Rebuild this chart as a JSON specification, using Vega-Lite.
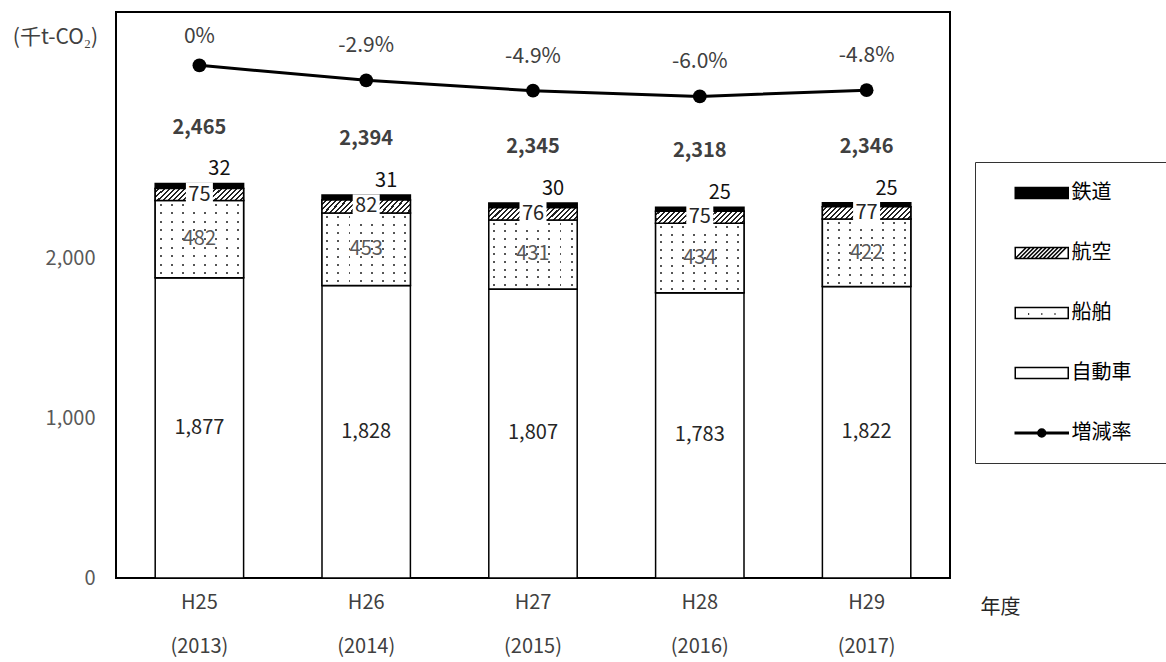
{
  "$schema": "https://vega.github.io/schema/vega-lite/v6.json",
  "autosize": {"type": "none"},
  "padding": {"left": 116, "top": 12, "right": 216, "bottom": 84},
  "width": 834,
  "height": 566,
  "config": {
    "font": "Noto Sans CJK JP",
    "view": {"stroke": "black", "strokeWidth": 2},
    "axis": {"grid": false},
    "legend": {
      "orient": "none",
      "legendX": 859,
      "legendY": 150,
      "titleOrient": "right",
      "titlePadding": 30,
      "titleFontSize": 20,
      "padding": 20,
      "strokeColor": "#333333",
      "rowPadding": 39,
      "symbolSize": 400,
      "symbolStrokeWidth": 1.5,
      "labelFontSize": 20,
      "labelColor": "black",
      "labelOffset": 54.5,
      "labelLimit": 400
    }
  },
  "datasets": {
    "emis": [
      {"year": "H25|(2013)", "mode": "自動車", "order": 1, "value": 1877},
      {"year": "H25|(2013)", "mode": "船舶", "order": 2, "value": 482},
      {"year": "H25|(2013)", "mode": "航空", "order": 3, "value": 75},
      {"year": "H25|(2013)", "mode": "鉄道", "order": 4, "value": 32},
      {"year": "H26|(2014)", "mode": "自動車", "order": 1, "value": 1828},
      {"year": "H26|(2014)", "mode": "船舶", "order": 2, "value": 453},
      {"year": "H26|(2014)", "mode": "航空", "order": 3, "value": 82},
      {"year": "H26|(2014)", "mode": "鉄道", "order": 4, "value": 31},
      {"year": "H27|(2015)", "mode": "自動車", "order": 1, "value": 1807},
      {"year": "H27|(2015)", "mode": "船舶", "order": 2, "value": 431},
      {"year": "H27|(2015)", "mode": "航空", "order": 3, "value": 76},
      {"year": "H27|(2015)", "mode": "鉄道", "order": 4, "value": 30},
      {"year": "H28|(2016)", "mode": "自動車", "order": 1, "value": 1783},
      {"year": "H28|(2016)", "mode": "船舶", "order": 2, "value": 434},
      {"year": "H28|(2016)", "mode": "航空", "order": 3, "value": 75},
      {"year": "H28|(2016)", "mode": "鉄道", "order": 4, "value": 25},
      {"year": "H29|(2017)", "mode": "自動車", "order": 1, "value": 1822},
      {"year": "H29|(2017)", "mode": "船舶", "order": 2, "value": 422},
      {"year": "H29|(2017)", "mode": "航空", "order": 3, "value": 77},
      {"year": "H29|(2017)", "mode": "鉄道", "order": 4, "value": 25}
    ],
    "totals": [
      {"year": "H25|(2013)", "total": 2465},
      {"year": "H26|(2014)", "total": 2394},
      {"year": "H27|(2015)", "total": 2345},
      {"year": "H28|(2016)", "total": 2318},
      {"year": "H29|(2017)", "total": 2346}
    ],
    "rate": [
      {"year": "H25|(2013)", "pct": 0},
      {"year": "H26|(2014)", "pct": -2.9},
      {"year": "H27|(2015)", "pct": -4.9},
      {"year": "H28|(2016)", "pct": -6.0},
      {"year": "H29|(2017)", "pct": -4.8}
    ]
  },
  "encoding": {
    "x": {
      "field": "year",
      "type": "nominal",
      "scale": {"paddingInner": 0.47, "paddingOuter": 0.235},
      "axis": {
        "domain": false,
        "ticks": false,
        "labelAngle": 0,
        "labelFontSize": 20,
        "labelColor": "#404040",
        "labelPadding": 14,
        "labelLineHeight": 44,
        "labelExpr": "[slice(datum.label, 0, 3), slice(datum.label, 4)]",
        "title": "年度",
        "titleX": 884,
        "titleY": 29,
        "titleAlign": "center",
        "titleBaseline": "middle",
        "titleFontSize": 20,
        "titleFontWeight": "normal",
        "titleColor": "#262626"
      }
    }
  },
  "layer": [
    {
      "data": {"name": "emis"},
      "transform": [
        {"stack": "value", "groupby": ["year"], "sort": [{"field": "order", "order": "ascending"}], "as": ["v0", "v1"]},
        {"calculate": "(datum.v0 + datum.v1) / 2", "as": "mid"}
      ],
      "encoding": {
        "y": {
          "field": "v1",
          "type": "quantitative",
          "scale": {"domain": [0, 3537.5], "nice": false},
          "axis": {
            "domain": false,
            "ticks": false,
            "values": [0, 1000, 2000],
            "labelExpr": "format(datum.value, ',')",
            "labelFontSize": 20,
            "labelColor": "#595959",
            "labelPadding": 21,
            "title": "(千t-CO₂)",
            "titleAngle": 0,
            "titleX": -61,
            "titleY": 25,
            "titleAlign": "center",
            "titleBaseline": "middle",
            "titleFontSize": 21,
            "titleFontWeight": "normal",
            "titleColor": "#404040"
          }
        },
        "y2": {"field": "v0"}
      },
      "layer": [
        {
          "mark": {"type": "bar", "stroke": "black", "strokeWidth": 1.5},
          "encoding": {
            "fill": {"condition": {"test": "datum.mode === '鉄道'", "value": "black"}, "value": "white"}
          }
        },
        {
          "transform": [{"filter": "datum.mode === '船舶'"}],
          "mark": {
            "type": "bar",
            "strokeWidth": 0,
            "fill": {
              "gradient": "linear", "x1": 0, "y1": 0, "x2": 1, "y2": 0,
              "stops": [
                {"offset": 0, "color": "white"}, {"offset": 0.05, "color": "white"}, {"offset": 0.05, "color": "#555555"}, {"offset": 0.072, "color": "#555555"}, {"offset": 0.072, "color": "white"},
                {"offset": 0.175, "color": "white"}, {"offset": 0.175, "color": "#555555"}, {"offset": 0.197, "color": "#555555"}, {"offset": 0.197, "color": "white"},
                {"offset": 0.3, "color": "white"}, {"offset": 0.3, "color": "#555555"}, {"offset": 0.322, "color": "#555555"}, {"offset": 0.322, "color": "white"},
                {"offset": 0.425, "color": "white"}, {"offset": 0.425, "color": "#555555"}, {"offset": 0.447, "color": "#555555"}, {"offset": 0.447, "color": "white"},
                {"offset": 0.55, "color": "white"}, {"offset": 0.55, "color": "#555555"}, {"offset": 0.572, "color": "#555555"}, {"offset": 0.572, "color": "white"},
                {"offset": 0.675, "color": "white"}, {"offset": 0.675, "color": "#555555"}, {"offset": 0.697, "color": "#555555"}, {"offset": 0.697, "color": "white"},
                {"offset": 0.8, "color": "white"}, {"offset": 0.8, "color": "#555555"}, {"offset": 0.822, "color": "#555555"}, {"offset": 0.822, "color": "white"},
                {"offset": 0.925, "color": "white"}, {"offset": 0.925, "color": "#555555"}, {"offset": 0.947, "color": "#555555"}, {"offset": 0.947, "color": "white"},
                {"offset": 1, "color": "white"}
              ]
            }
          }
        },
        {
          "transform": [{"filter": "datum.mode === '船舶'"}],
          "mark": {
            "type": "bar",
            "stroke": "black",
            "strokeWidth": 1.5,
            "fill": {
              "gradient": "linear", "x1": 0, "y1": 0, "x2": 0, "y2": 1,
              "stops": [
                {"offset": 0, "color": "white"}, {"offset": 0.04, "color": "white"}, {"offset": 0.04, "color": "rgba(255,255,255,0)"}, {"offset": 0.068, "color": "rgba(255,255,255,0)"}, {"offset": 0.068, "color": "white"},
                {"offset": 0.151, "color": "white"}, {"offset": 0.151, "color": "rgba(255,255,255,0)"}, {"offset": 0.179, "color": "rgba(255,255,255,0)"}, {"offset": 0.179, "color": "white"},
                {"offset": 0.262, "color": "white"}, {"offset": 0.262, "color": "rgba(255,255,255,0)"}, {"offset": 0.29, "color": "rgba(255,255,255,0)"}, {"offset": 0.29, "color": "white"},
                {"offset": 0.373, "color": "white"}, {"offset": 0.373, "color": "rgba(255,255,255,0)"}, {"offset": 0.401, "color": "rgba(255,255,255,0)"}, {"offset": 0.401, "color": "white"},
                {"offset": 0.484, "color": "white"}, {"offset": 0.484, "color": "rgba(255,255,255,0)"}, {"offset": 0.512, "color": "rgba(255,255,255,0)"}, {"offset": 0.512, "color": "white"},
                {"offset": 0.596, "color": "white"}, {"offset": 0.596, "color": "rgba(255,255,255,0)"}, {"offset": 0.624, "color": "rgba(255,255,255,0)"}, {"offset": 0.624, "color": "white"},
                {"offset": 0.707, "color": "white"}, {"offset": 0.707, "color": "rgba(255,255,255,0)"}, {"offset": 0.735, "color": "rgba(255,255,255,0)"}, {"offset": 0.735, "color": "white"},
                {"offset": 0.818, "color": "white"}, {"offset": 0.818, "color": "rgba(255,255,255,0)"}, {"offset": 0.846, "color": "rgba(255,255,255,0)"}, {"offset": 0.846, "color": "white"},
                {"offset": 0.929, "color": "white"}, {"offset": 0.929, "color": "rgba(255,255,255,0)"}, {"offset": 0.957, "color": "rgba(255,255,255,0)"}, {"offset": 0.957, "color": "white"},
                {"offset": 1, "color": "white"}
              ]
            }
          }
        },
        {
          "transform": [{"filter": "datum.mode === '航空'"}],
          "mark": {
            "type": "bar",
            "stroke": "black",
            "strokeWidth": 1.5,
            "fill": {
              "gradient": "linear", "x1": 0, "y1": 0, "x2": 1.15, "y2": 0.16,
              "stops": [
                {"offset": 0, "color": "white"}, {"offset": 0.03, "color": "white"}, {"offset": 0.03, "color": "#222222"}, {"offset": 0.05, "color": "#222222"},
                {"offset": 0.05, "color": "white"}, {"offset": 0.08, "color": "white"}, {"offset": 0.08, "color": "#222222"}, {"offset": 0.1, "color": "#222222"},
                {"offset": 0.1, "color": "white"}, {"offset": 0.13, "color": "white"}, {"offset": 0.13, "color": "#222222"}, {"offset": 0.15, "color": "#222222"},
                {"offset": 0.15, "color": "white"}, {"offset": 0.18, "color": "white"}, {"offset": 0.18, "color": "#222222"}, {"offset": 0.2, "color": "#222222"},
                {"offset": 0.2, "color": "white"}, {"offset": 0.23, "color": "white"}, {"offset": 0.23, "color": "#222222"}, {"offset": 0.25, "color": "#222222"},
                {"offset": 0.25, "color": "white"}, {"offset": 0.28, "color": "white"}, {"offset": 0.28, "color": "#222222"}, {"offset": 0.3, "color": "#222222"},
                {"offset": 0.3, "color": "white"}, {"offset": 0.33, "color": "white"}, {"offset": 0.33, "color": "#222222"}, {"offset": 0.35, "color": "#222222"},
                {"offset": 0.35, "color": "white"}, {"offset": 0.38, "color": "white"}, {"offset": 0.38, "color": "#222222"}, {"offset": 0.4, "color": "#222222"},
                {"offset": 0.4, "color": "white"}, {"offset": 0.43, "color": "white"}, {"offset": 0.43, "color": "#222222"}, {"offset": 0.45, "color": "#222222"},
                {"offset": 0.45, "color": "white"}, {"offset": 0.48, "color": "white"}, {"offset": 0.48, "color": "#222222"}, {"offset": 0.5, "color": "#222222"},
                {"offset": 0.5, "color": "white"}, {"offset": 0.53, "color": "white"}, {"offset": 0.53, "color": "#222222"}, {"offset": 0.55, "color": "#222222"},
                {"offset": 0.55, "color": "white"}, {"offset": 0.58, "color": "white"}, {"offset": 0.58, "color": "#222222"}, {"offset": 0.6, "color": "#222222"},
                {"offset": 0.6, "color": "white"}, {"offset": 0.63, "color": "white"}, {"offset": 0.63, "color": "#222222"}, {"offset": 0.65, "color": "#222222"},
                {"offset": 0.65, "color": "white"}, {"offset": 0.68, "color": "white"}, {"offset": 0.68, "color": "#222222"}, {"offset": 0.7, "color": "#222222"},
                {"offset": 0.7, "color": "white"}, {"offset": 0.73, "color": "white"}, {"offset": 0.73, "color": "#222222"}, {"offset": 0.75, "color": "#222222"},
                {"offset": 0.75, "color": "white"}, {"offset": 0.78, "color": "white"}, {"offset": 0.78, "color": "#222222"}, {"offset": 0.8, "color": "#222222"},
                {"offset": 0.8, "color": "white"}, {"offset": 0.83, "color": "white"}, {"offset": 0.83, "color": "#222222"}, {"offset": 0.85, "color": "#222222"},
                {"offset": 0.85, "color": "white"}, {"offset": 0.88, "color": "white"}, {"offset": 0.88, "color": "#222222"}, {"offset": 0.9, "color": "#222222"},
                {"offset": 0.9, "color": "white"}, {"offset": 0.93, "color": "white"}, {"offset": 0.93, "color": "#222222"}, {"offset": 0.95, "color": "#222222"},
                {"offset": 0.95, "color": "white"}, {"offset": 0.98, "color": "white"}, {"offset": 0.98, "color": "#222222"}, {"offset": 1, "color": "#222222"}
              ]
            }
          }
        },
        {
          "transform": [{"filter": "datum.mode === '航空'"}],
          "mark": {"type": "point", "shape": "M-1,-0.9H1V0.9H-1Z", "filled": true, "fill": "white", "strokeWidth": 0, "size": 729, "opacity": 1},
          "encoding": {
            "y": {"field": "mid", "type": "quantitative", "scale": {"domain": [0, 3537.5], "nice": false}}
          }
        },
        {
          "transform": [{"filter": "false"}],
          "mark": {"type": "point", "filled": true, "strokeWidth": 1.5, "opacity": 1},
          "encoding": {
            "fill": {
              "field": "mode",
              "type": "nominal",
              "scale": {
                "domain": ["鉄道", "航空", "船舶", "自動車", "増減率"],
                "range": ["black", "white", "white", "white", "black"]
              },
              "legend": {"title": "　"}
            },
            "stroke": {
              "field": "mode",
              "type": "nominal",
              "scale": {
                "domain": ["鉄道", "航空", "船舶", "自動車", "増減率"],
                "range": ["black", "black", "black", "black", "black"]
              },
              "legend": {"title": "　"}
            },
            "shape": {
              "field": "mode",
              "type": "nominal",
              "scale": {
                "domain": ["鉄道", "航空", "船舶", "自動車", "増減率"],
                "range": [
                  "M0.925,-0.55H6.225V0.55H0.925Z",
                  "M0.925,-0.55H6.225V0.55H0.925ZM0.925,0.55L2.025,-0.55M1.325,0.55L2.425,-0.55M1.725,0.55L2.825,-0.55M2.125,0.55L3.225,-0.55M2.525,0.55L3.625,-0.55M2.925,0.55L4.025,-0.55M3.325,0.55L4.425,-0.55M3.725,0.55L4.825,-0.55M4.125,0.55L5.225,-0.55M4.525,0.55L5.625,-0.55M4.925,0.55L6.025,-0.55",
                  "M0.925,-0.55H6.225V0.55H0.925ZM2.2,0.1h0.12M3.52,0.1h0.12M4.84,0.1h0.12",
                  "M0.925,-0.55H6.225V0.55H0.925Z",
                  "M0.925,-0.08H6.225V0.08H0.925ZM3.175,0A0.4,0.4 0 1,0 3.975,0A0.4,0.4 0 1,0 3.175,0Z"
                ]
              },
              "legend": {"title": "　"}
            }
          }
        },
        {
          "transform": [{"filter": "datum.mode === '航空'"}],
          "mark": {"type": "text", "fontSize": 20, "color": "#262626", "baseline": "middle"},
          "encoding": {
            "y": {"field": "mid", "type": "quantitative", "scale": {"domain": [0, 3537.5], "nice": false}},
            "text": {"field": "value", "type": "quantitative", "format": ","}
          }
        },
        {
          "transform": [{"filter": "datum.mode === '船舶'"}],
          "mark": {"type": "text", "fontSize": 20, "color": "#595959", "baseline": "middle"},
          "encoding": {
            "y": {"field": "mid", "type": "quantitative", "scale": {"domain": [0, 3537.5], "nice": false}},
            "text": {"field": "value", "type": "quantitative", "format": ","}
          }
        },
        {
          "transform": [{"filter": "datum.mode === '自動車'"}],
          "mark": {"type": "text", "fontSize": 20, "color": "#262626", "baseline": "middle"},
          "encoding": {
            "y": {"field": "mid", "type": "quantitative", "scale": {"domain": [0, 3537.5], "nice": false}},
            "text": {"field": "value", "type": "quantitative", "format": ","}
          }
        },
        {
          "transform": [{"filter": "datum.mode === '鉄道'"}],
          "mark": {"type": "text", "fontSize": 20, "color": "#111111", "baseline": "middle", "dx": 20, "dy": -14},
          "encoding": {
            "text": {"field": "value", "type": "quantitative", "format": ","}
          }
        },
        {
          "data": {"name": "totals"},
          "mark": {"type": "text", "fontSize": 20, "fontWeight": "bold", "color": "#404040", "baseline": "middle", "dy": -56},
          "encoding": {
            "y": {"field": "total", "type": "quantitative", "scale": {"domain": [0, 3537.5], "nice": false}},
            "y2": null,
            "text": {"field": "total", "type": "quantitative", "format": ","}
          }
        }
      ]
    },
    {
      "data": {"name": "rate"},
      "transform": [
        {"calculate": "datum.pct === 0 ? '0%' : (datum.pct < 0 ? '-' : '') + format(abs(datum.pct), '.1f') + '%'", "as": "lbl"}
      ],
      "encoding": {
        "y": {"field": "pct", "type": "quantitative", "scale": {"domain": [-99, 10.3], "nice": false, "zero": false}, "axis": null}
      },
      "layer": [
        {"mark": {"type": "line", "color": "black", "strokeWidth": 3}},
        {"mark": {"type": "point", "filled": true, "color": "black", "size": 190, "opacity": 1}},
        {
          "transform": [{"filter": "datum.pct === 0"}],
          "mark": {"type": "text", "fontSize": 21, "color": "#404040", "baseline": "middle", "dy": -28},
          "encoding": {"text": {"field": "lbl", "type": "nominal"}}
        },
        {
          "transform": [{"filter": "datum.pct !== 0"}],
          "mark": {"type": "text", "fontSize": 21, "color": "#404040", "baseline": "middle", "dy": -34},
          "encoding": {"text": {"field": "lbl", "type": "nominal"}}
        }
      ]
    }
  ],
  "resolve": {"scale": {"y": "independent"}}
}
